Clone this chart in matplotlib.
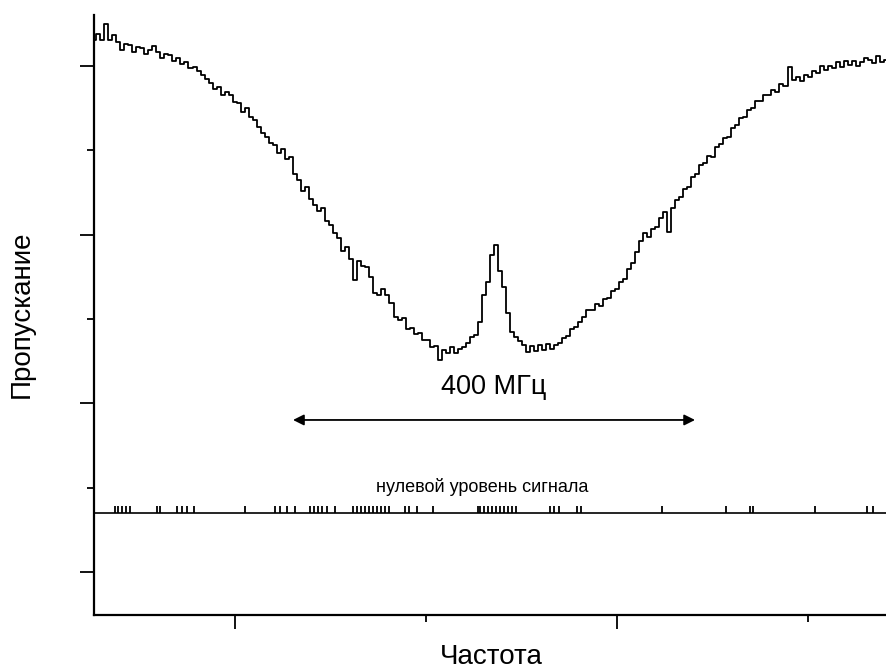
import numpy as np
import matplotlib
matplotlib.use("Agg")
import matplotlib.pyplot as plt
from matplotlib.ticker import FixedLocator, NullFormatter

plt.rcParams['font.family'] = ['Liberation Sans', 'DejaVu Sans']

# frequency grid, MHz (4 MHz per sample)
freq = np.arange(0, 792, 4)

# transmitted signal, arb. units (0 = zero signal level)
signal = [
    473, 479, 473, 489, 473, 478, 471, 463, 469, 468,
    461, 466, 465, 459, 463, 467, 461, 455, 459, 458,
    452, 455, 449, 451, 445, 446, 442, 438, 434, 430,
    424, 426, 418, 421, 418, 411, 410, 401, 405, 396,
    393, 386, 380, 376, 370, 368, 360, 364, 354, 356,
    339, 333, 322, 326, 314, 308, 302, 305, 292, 288,
    280, 275, 262, 266, 254, 233, 252, 247, 246, 236,
    220, 218, 224, 218, 210, 196, 193, 195, 184, 185,
    179, 180, 173, 173, 166, 167, 153, 163, 160, 166,
    160, 164, 166, 170, 176, 178, 191, 218, 231, 258,
    268, 242, 226, 200, 181, 176, 172, 168, 161, 167,
    162, 168, 163, 169, 164, 168, 170, 175, 177, 184,
    186, 191, 196, 203, 203, 209, 207, 214, 215, 222,
    224, 231, 234, 244, 250, 261, 272, 280, 276, 284,
    286, 295, 301, 281, 305, 313, 316, 324, 326, 336,
    339, 348, 350, 357, 356, 366, 369, 375, 376, 385,
    388, 395, 396, 403, 405, 412, 412, 418, 418, 423,
    421, 429, 427, 446, 433, 436, 432, 438, 436, 442,
    440, 447, 443, 447, 445, 451, 446, 452, 448, 452,
    447, 451, 455, 453, 450, 457, 451, 453,
]

# short bursts seen on the zero-signal trace, MHz
zero_spikes = [
    21, 24, 28, 32, 36, 63, 66, 83, 88, 93, 99, 150, 180, 185, 192, 200,
    215, 219, 223, 227, 232, 240, 258, 262, 266, 270, 274, 278, 282, 286,
    290, 294, 309, 313, 321, 337, 382, 384, 388, 392, 396, 400, 404, 408,
    412, 416, 420, 454, 458, 463, 481, 485, 565, 629, 653, 656, 717, 769,
    775,
]
spike_height = 7

span_mhz = 400
span_start = 198

fig = plt.figure(figsize=(8.86, 6.71), dpi=100)
ax = fig.add_axes([0.1061, 0.0835, 0.8939, 0.8942])

ax.plot(freq, signal, color='black', lw=1.3, drawstyle='steps-mid')
ax.axhline(0, color='black', lw=1.2)
ax.vlines(zero_spikes, 0, spike_height, color='black', lw=1.3)

ax.text(386, 26, 'нулевой уровень сигнала', ha='center', va='center', fontsize=13)
ax.annotate('', xy=(span_start, 93), xytext=(span_start + span_mhz, 93),
            arrowprops=dict(arrowstyle='<|-|>', color='black', lw=1.3,
                            mutation_scale=16, shrinkA=0, shrinkB=0))
ax.text(span_start + span_mhz / 2, 126, f'{span_mhz} МГц', ha='center', va='center',
        fontsize=19.5)

ax.set_xlim(0, 788)
ax.set_ylim(-102, 498)

for s in ('top', 'right'):
    ax.spines[s].set_visible(False)
for s in ('left', 'bottom'):
    ax.spines[s].set_linewidth(1.6)

ax.xaxis.set_major_locator(FixedLocator([140, 520]))
ax.xaxis.set_minor_locator(FixedLocator([330, 710]))
ax.yaxis.set_major_locator(FixedLocator([-59, 110, 278, 447]))
ax.yaxis.set_minor_locator(FixedLocator([25, 194, 363]))
ax.xaxis.set_major_formatter(NullFormatter())
ax.yaxis.set_major_formatter(NullFormatter())
ax.tick_params(which='major', length=10, width=1.3, direction='out')
ax.tick_params(which='minor', length=5, width=1.3, direction='out')

fig.text(0.555, 0.021, 'Частота', ha='center', va='center', fontsize=20)
fig.text(0.025, 0.531, 'Пропускание', ha='center', va='center', rotation=90,
         fontsize=20)

fig.savefig('out.png', dpi=100)
